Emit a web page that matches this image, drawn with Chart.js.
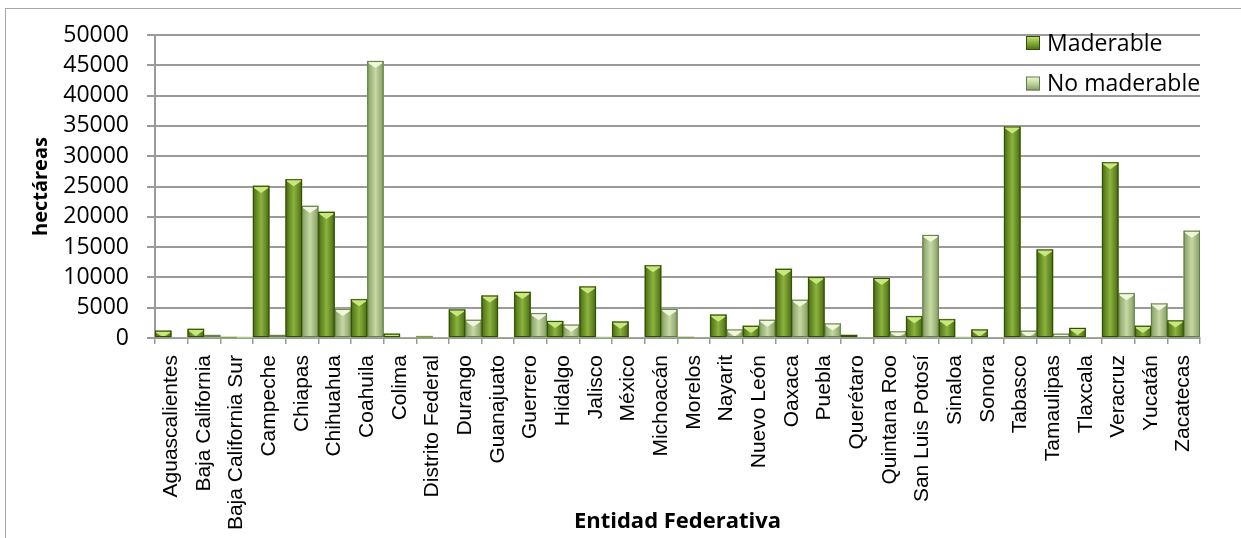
<!DOCTYPE html>
<html>
<head>
<meta charset="utf-8">
<script src="https://cdn.jsdelivr.net/npm/chart.js@4/dist/chart.umd.min.js"></script>
<style>
  html, body { margin: 0; padding: 0; background: #fff; overflow: hidden; }
  #wrap { position: relative; width: 1241px; height: 538px; }
  #frame { position: absolute; left: 5px; top: 8px; width: 1300px; height: 600px; border: 1px solid #a6a6a6; box-sizing: border-box; }
  canvas { position: absolute; left: 0; top: 0; }
</style>
</head>
<body>
<div id="wrap">
  <div id="frame"></div>
  <canvas id="chart" width="1241" height="538"></canvas>
</div>
<script>
// estados y superficie (hectáreas)
var entidades = ['Aguascalientes', 'Baja California', 'Baja California Sur', 'Campeche', 'Chiapas',
  'Chihuahua', 'Coahuila', 'Colima', 'Distrito Federal', 'Durango', 'Guanajuato', 'Guerrero',
  'Hidalgo', 'Jalisco', 'México', 'Michoacán', 'Morelos', 'Nayarit', 'Nuevo León', 'Oaxaca',
  'Puebla', 'Querétaro', 'Quintana Roo', 'San Luis Potosí', 'Sinaloa', 'Sonora', 'Tabasco',
  'Tamaulipas', 'Tlaxcala', 'Veracruz', 'Yucatán', 'Zacatecas'];
var maderable = [1200, 1500, 100, 25100, 26200, 20800, 6400, 700, 300, 4700, 7000, 7600,
  2800, 8500, 2700, 12000, 100, 3850, 2000, 11400, 10050, 500, 9900, 3600, 3100, 1400, 34900,
  14600, 1650, 29000, 2000, 2900];
var noMaderable = [0, 500, 50, 500, 21800, 4800, 45700, 0, 0, 3000, 0, 4100,
  2200, 100, 0, 4800, 0, 1400, 3000, 6300, 2400, 0, 1100, 17000, 100, 0, 1200,
  700, 0, 7400, 5700, 17700];
var yTicks = [0, 5000, 10000, 15000, 20000, 25000, 30000, 35000, 40000, 45000, 50000];

var paleta = [
  {edge: '#4a6b14', mid: '#8bb33d', top: '#c8e87e', line: '#324c0a'},
  {edge: '#839c62', mid: '#c6d9a4', top: '#f0f8dc', line: '#667d4c'}
];

// relleno con degradado y bisel arriba, como el original
var brillo = {
  id: 'brillo',
  afterDatasetDraw: function(chart, args) {
    var ctx = chart.ctx, pal = paleta[args.index], area = chart.chartArea;
    ctx.save();
    ctx.beginPath();
    ctx.rect(area.left, area.top, area.right - area.left, area.bottom - area.top + 1);
    ctx.clip();
    args.meta.data.forEach(function(bar) {
      var p = bar.getProps(['x', 'y', 'base', 'width'], true);
      var l = p.x - p.width / 2, r = p.x + p.width / 2, h = p.base - p.y;
      if (h < 1) return;
      var g = ctx.createLinearGradient(l, 0, r, 0);
      g.addColorStop(0, pal.edge);
      g.addColorStop(0.5, pal.mid);
      g.addColorStop(1, pal.edge);
      ctx.fillStyle = g;
      ctx.fillRect(l, p.y, p.width, h);
      var b = Math.min(7, h);
      ctx.beginPath();
      ctx.moveTo(l + 1, p.y);
      ctx.lineTo(r - 1, p.y);
      ctx.lineTo(r - 1, p.y + Math.min(2, b));
      ctx.lineTo(p.x, p.y + b);
      ctx.lineTo(l + 1, p.y + Math.min(2, b));
      ctx.closePath();
      ctx.fillStyle = pal.top;
      ctx.fill();
      ctx.strokeStyle = pal.line;
      ctx.lineWidth = 1;
      ctx.strokeRect(l + 0.5, p.y + 0.5, p.width - 1, h - 1);
    });
    ctx.restore();
  }
};

// leyenda dentro del área de trazado, arriba a la derecha
var leyenda = {
  id: 'leyenda',
  afterDraw: function(chart) {
    var ctx = chart.ctx, area = chart.chartArea;
    ctx.save();
    ctx.font = '23px "Open Sans"';
    ctx.textBaseline = 'middle';
    chart.data.datasets.forEach(function(ds, i) {
      var pal = paleta[i];
      var x = area.right - 174, y = area.top + 8 + i * 40.5;
      var g = ctx.createLinearGradient(0, y - 7, 0, y + 7);
      g.addColorStop(0, pal.top);
      g.addColorStop(0.45, pal.mid);
      g.addColorStop(1, pal.edge);
      ctx.fillStyle = g;
      ctx.fillRect(x, y - 7, 14, 14);
      ctx.strokeStyle = pal.line;
      ctx.lineWidth = 1;
      ctx.strokeRect(x + 0.5, y - 6.5, 13, 13);
      ctx.fillStyle = '#000';
      ctx.fillText(ds.label, x + 21, y + 1);
    });
    ctx.restore();
  }
};

var chart = new Chart('chart', {
  type: 'bar',
  data: {
    labels: entidades,
    datasets: [
      {label: 'Maderable', data: maderable, backgroundColor: '#7aa233', borderWidth: 0,
        categoryPercentage: 1, barPercentage: 1},
      {label: 'No maderable', data: noMaderable, backgroundColor: '#b5cc8f', borderWidth: 0,
        categoryPercentage: 1, barPercentage: 1}
    ]
  },
  options: {
    responsive: false,
    animation: false,
    devicePixelRatio: 1,
    layout: {padding: {left: 10, top: 35, right: 41, bottom: 0}},
    plugins: {legend: {display: false}, tooltip: {enabled: false}},
    scales: {
      x: {
        grid: {drawOnChartArea: false, drawTicks: true, tickLength: 6, color: '#9a9a9a', lineWidth: 1.5, offset: true},
        border: {color: '#9a9a9a', width: 2},
        ticks: {autoSkip: false, maxRotation: 90, minRotation: 90, padding: 11, color: '#000',
          font: {family: '"Liberation Sans", Arial', size: 21}},
        title: {display: true, text: 'Entidad Federativa', color: '#000',
          font: {family: '"Open Sans"', size: 22, weight: 'bold'}, padding: {top: 0, bottom: 3}},
        afterFit: function(s) { s.height = 200; }
      },
      y: {
        min: 0, max: 50000,
        afterBuildTicks: function(s) { s.ticks = yTicks.map(function(v) { return {value: v}; }); },
        grid: {color: '#9a9a9a', lineWidth: 2, tickLength: 8},
        border: {color: '#9a9a9a', width: 2},
        ticks: {autoSkip: false, padding: 18, color: '#000', callback: function(v) { return String(v); },
          font: {family: '"Open Sans"', size: 23, lineHeight: 1}},
        title: {display: true, text: 'hectáreas', color: '#000',
          font: {family: '"Open Sans"', size: 20, weight: 'bold'}, padding: {top: 19, bottom: 0}},
        afterFit: function(s) { s.width = 145; }
      }
    }
  },
  plugins: [brillo, leyenda]
});
</script>
</body>
</html>
